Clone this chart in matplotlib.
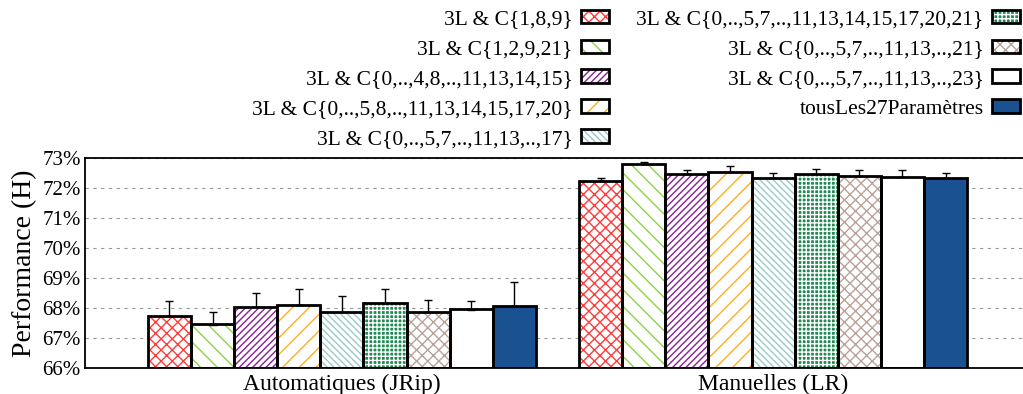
import numpy as np
import matplotlib
matplotlib.use('Agg')
from matplotlib import pyplot as plt

plt.rcParams['font.family'] = ['Liberation Serif', 'DejaVu Serif']
plt.rcParams['hatch.linewidth'] = 1.0

groups = ['Automatiques (JRip)', 'Manuelles (LR)']
labels = ['3L & C{1,8,9}',
          '3L & C{1,2,9,21}',
          '3L & C{0,..,4,8,..,11,13,14,15}',
          '3L & C{0,..,5,8,..,11,13,14,15,17,20}',
          '3L & C{0,..,5,7,..,11,13,..,17}',
          '3L & C{0,..,5,7,..,11,13,14,15,17,20,21}',
          '3L & C{0,..,5,7,..,11,13,..,21}',
          '3L & C{0,..,5,7,..,11,13,..,23}',
          'tousLes27Paramètres']

# mean performance (%) per config, for JRip / LR
jrip = [67.75, 67.45, 68.02, 68.10, 67.86, 68.15, 67.88, 67.95, 68.08]
lr = [72.25, 72.80, 72.48, 72.55, 72.34, 72.47, 72.40, 72.38, 72.33]
# upper error only
jrip_err = [0.48, 0.40, 0.47, 0.55, 0.53, 0.48, 0.38, 0.30, 0.78]
lr_err = [0.09, 0.07, 0.13, 0.17, 0.17, 0.18, 0.20, 0.23, 0.18]

faces = ['white', 'white', 'white', 'white', 'white', '#1f8a52', 'white', 'white', '#1a5190']
hcols = ['#ff3b3b', '#8ed14a', '#8a1f96', '#ffae1f', '#9ccaca', 'white', '#b8a29a', 'white', '#1a5190']
hatches = ['xxx', '\\\\', '/////', '//', '\\\\\\\\\\', '++++', 'xxx', '', '']

fig = plt.figure(figsize=(10.23, 3.94), dpi=100)
ax = fig.add_axes([85 / 1023, 1 - 368 / 394, 945 / 1023, 210 / 394])

x = np.arange(len(groups))
w = 0.1
vals = np.array([jrip, lr]).T
errs = np.array([jrip_err, lr_err]).T
handles = []
for j in range(len(labels)):
    pos = x + (j - 4) * w
    b1 = ax.bar(pos, vals[j] - 66, w, bottom=66, color=faces[j], edgecolor=hcols[j],
                hatch=hatches[j], linewidth=0, zorder=2)
    b2 = ax.bar(pos, vals[j] - 66, w, bottom=66, fill=False, edgecolor='black',
                linewidth=2, zorder=3)
    ax.errorbar(pos, vals[j], yerr=[np.zeros(2), errs[j]], fmt='none', ecolor='black',
                elinewidth=1, capsize=3, capthick=1, zorder=4)
    handles.append((b1, b2))

ax.set_xlim(-0.596, 1.596)
ax.set_ylim(66, 73)
ax.set_yticks(range(66, 74))
ax.set_yticklabels(['%d%%' % v for v in range(66, 74)])
ax.set_xticks(x)
ax.set_xticklabels(groups)
ax.tick_params(length=0, labelsize=15, pad=3)
ax.tick_params(axis='x', labelsize=17, pad=4)
ax.set_ylabel('Performance (H)', fontsize=20, labelpad=4)
ax.yaxis.grid(True, linestyle=(0, (3, 4)), color='#999999', linewidth=0.8)
ax.set_axisbelow(True)
for s in ax.spines.values():
    s.set_linewidth(1.3)
ax.spines['right'].set_visible(False)

fig.legend(handles, labels, loc='upper right', bbox_to_anchor=(1.012, 1.014), ncol=2,
           markerfirst=False, frameon=False, fontsize=15.5, handlelength=1.3,
           handleheight=0.6, labelspacing=0.49, columnspacing=1.25, handletextpad=0.4,
           borderpad=0.2)

fig.savefig('out.png', dpi=100)
